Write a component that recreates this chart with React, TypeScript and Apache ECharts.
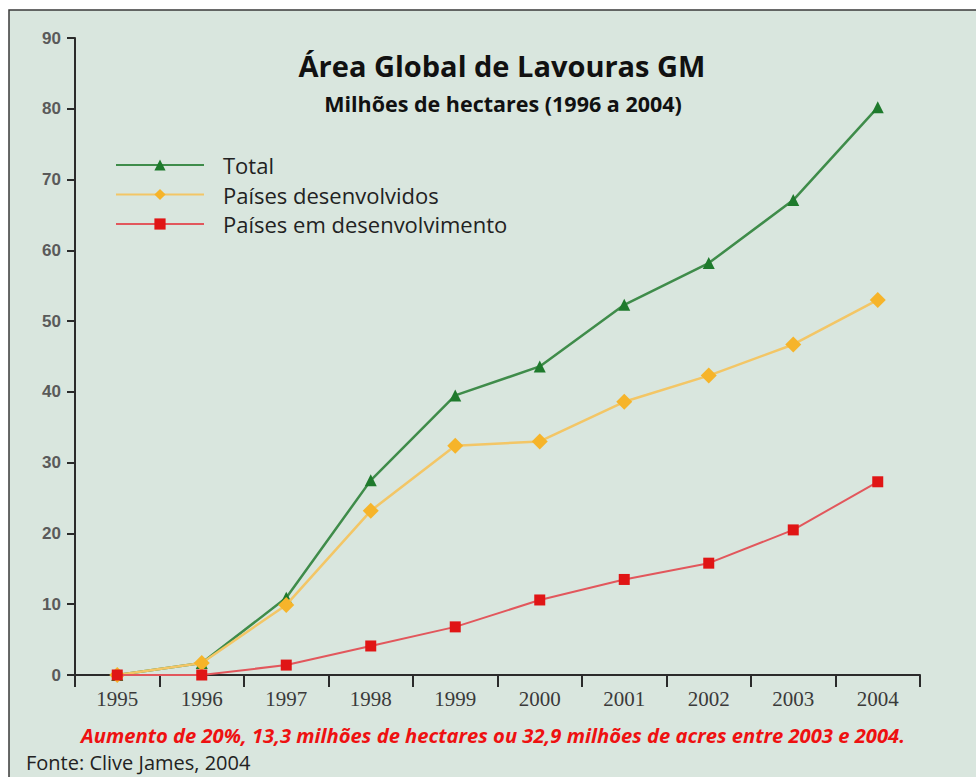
import React, { useEffect, useRef } from "react";
import * as echarts from "echarts";

const years = ["1995", "1996", "1997", "1998", "1999", "2000", "2001", "2002", "2003", "2004"];
const total = [0, 1.7, 10.9, 27.5, 39.5, 43.6, 52.3, 58.2, 67.1, 80.2];
const developed = [0, 1.7, 9.9, 23.2, 32.4, 33.0, 38.6, 42.3, 46.7, 53.0];
const developing = [0, 0, 1.4, 4.1, 6.8, 10.6, 13.5, 15.8, 20.5, 27.3];
const seriesNames = ["Total", "Países desenvolvidos", "Países em desenvolvimento"];

const titleText = "Área Global de Lavouras GM";
const subtitleText = "Milhões de hectares (1996 a 2004)";
const noteText = "Aumento de 20%, 13,3 milhões de hectares ou 32,9 milhões de acres entre 2003 e 2004.";
const sourceText = "Fonte: Clive James, 2004";

export default function App() {
  const ref = useRef<HTMLDivElement>(null);
  useEffect(() => {
    document.body.style.margin = "0";
    if (!ref.current) return;
    const chart = echarts.init(ref.current, null, { renderer: "svg" });
    const font = "'Open Sans', Lato, sans-serif";
    chart.setOption({
      animation: false,
      backgroundColor: "#ffffff",
      textStyle: { fontFamily: font },
      graphic: [
        {
          type: "rect",
          z: -10,
          silent: true,
          shape: { x: 9, y: 10, width: 1000, height: 800 },
          style: { fill: "#d9e6de", stroke: "#3a3a3a", lineWidth: 1.5 },
        },
        {
          type: "text",
          x: 502,
          y: 65,
          style: {
            text: titleText,
            font: `bold 29px ${font}`,
            fill: "#111",
            align: "center",
            verticalAlign: "middle",
          },
        },
        {
          type: "text",
          x: 503,
          y: 103,
          style: {
            text: subtitleText,
            font: `bold 21.5px ${font}`,
            fill: "#111",
            align: "center",
            verticalAlign: "middle",
          },
        },
        {
          type: "text",
          x: 493,
          y: 735,
          style: {
            text: noteText,
            font: `italic bold 20.2px ${font}`,
            fill: "#ee1111",
            align: "center",
            verticalAlign: "middle",
          },
        },
        {
          type: "text",
          x: 26,
          y: 762,
          style: {
            text: sourceText,
            font: `20px ${font}`,
            fill: "#222",
            align: "left",
            verticalAlign: "middle",
          },
        },
      ],
      legend: {
        orient: "vertical",
        left: 110,
        top: 149,
        itemWidth: 88,
        itemHeight: 14,
        itemGap: 7.5,
        data: seriesNames,
        textStyle: {
          fontSize: 22,
          lineHeight: 22,
          color: "#222",
          fontFamily: font,
          padding: [0, 0, 0, 14],
        },
      },
      grid: { left: 75, right: 56, top: 38, bottom: 102, containLabel: false },
      xAxis: {
        type: "category",
        data: years,
        boundaryGap: true,
        axisLine: { show: true, lineStyle: { color: "#2b2b2b", width: 2 } },
        axisTick: { show: true, length: 12, lineStyle: { color: "#2b2b2b", width: 2 } },
        axisLabel: {
          color: "#3a3a3a",
          fontSize: 21,
          fontFamily: "'Liberation Serif', 'DejaVu Serif', serif",
          margin: 13,
        },
      },
      yAxis: {
        type: "value",
        min: 0,
        max: 90,
        interval: 10,
        splitLine: { show: false },
        axisLine: { show: true, lineStyle: { color: "#2b2b2b", width: 2 } },
        axisTick: { show: true, length: 8, lineStyle: { color: "#2b2b2b", width: 2 } },
        axisLabel: {
          color: "#5a5a5a",
          fontSize: 17,
          fontWeight: "bold",
          fontFamily: "'Liberation Sans', Arial, sans-serif",
          margin: 14,
        },
      },
      series: [
        {
          name: seriesNames[0],
          type: "line",
          data: total,
          symbol: "triangle",
          symbolSize: 12,
          lineStyle: { color: "#3f8c4a", width: 2.5 },
          itemStyle: { color: "#1e7a2c" },
          z: 2,
        },
        {
          name: seriesNames[1],
          type: "line",
          data: developed,
          symbol: "diamond",
          symbolSize: 16,
          lineStyle: { color: "#f3c666", width: 2.5 },
          itemStyle: { color: "#f6b42a" },
          z: 3,
        },
        {
          name: seriesNames[2],
          type: "line",
          data: developing,
          symbol: "rect",
          symbolSize: 11,
          lineStyle: { color: "#e2575c", width: 2 },
          itemStyle: { color: "#e01515" },
          z: 4,
        },
      ],
    });
    return () => chart.dispose();
  }, []);
  return <div ref={ref} style={{ width: 976, height: 777 }} />;
}
